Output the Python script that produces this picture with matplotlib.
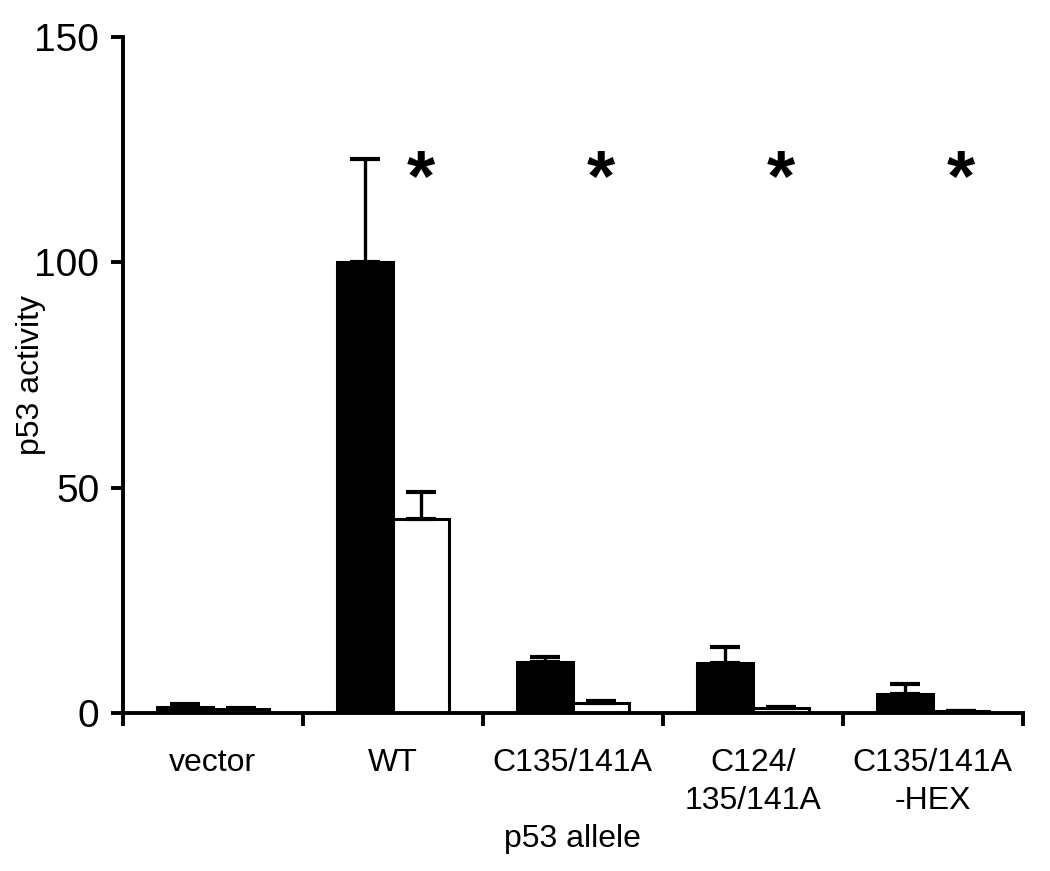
import numpy as np
import matplotlib
matplotlib.use('Agg')
import matplotlib.pyplot as plt

plt.rcParams['font.family'] = ['Liberation Sans', 'DejaVu Sans']

# 数据
alleles = ['vector', 'WT', 'C135/141A', 'C124/\n135/141A', 'C135/141A\n-HEX']
black_vals = [1.4, 100, 11.4, 11.2, 4.4]
black_err = [0.6, 23, 1.0, 3.6, 2.0]
white_vals = [1.0, 43, 2.2, 1.2, 0.5]
white_err = [0.2, 6, 0.6, 0.3, 0.1]
star_groups = [1, 2, 3, 4]

fig = plt.figure(figsize=(10.5, 8.71), dpi=100)
ax = fig.add_axes([0.117, 0.181, 0.857, 0.7765])

x = np.arange(len(alleles)) + 0.5
w = 0.31

ax.bar(x - w / 2, black_vals, w, color='black', edgecolor='black', linewidth=2.2,
       yerr=[np.zeros(5), black_err], capsize=11,
       error_kw=dict(elinewidth=2.4, capthick=3, ecolor='black'))
ax.bar(x + w / 2, white_vals, w, color='white', edgecolor='black', linewidth=2.2,
       yerr=[np.zeros(5), white_err], capsize=11,
       error_kw=dict(elinewidth=2.4, capthick=3, ecolor='black'))

# 星号
for g in star_groups:
    ax.text(x[g] + w / 2, 118, '*', ha='center', va='center', fontsize=52,
            fontweight='bold')

ax.set_xlim(0, 5)
ax.set_ylim(0, 150)
ax.set_yticks([0, 50, 100, 150])
ax.set_xticks(np.arange(6))
ax.set_xticklabels([])
ax.set_xticks(x, minor=True)
ax.set_xticklabels(alleles, minor=True, fontsize=23, linespacing=1.35)
ax.tick_params(axis='x', which='minor', length=0, pad=25)
ax.tick_params(axis='x', which='major', length=9, width=2.8, direction='out')
ax.tick_params(axis='y', length=9, width=2.8, labelsize=28, pad=8)

for s in ['top', 'right']:
    ax.spines[s].set_visible(False)
for s in ['left', 'bottom']:
    ax.spines[s].set_linewidth(2.8)

ax.set_xlabel('p53 allele', fontsize=23, labelpad=6)
ax.set_ylabel('p53 activity', fontsize=23)
ax.yaxis.set_label_coords(-0.085, 0.5)

fig.savefig('out.png', dpi=100)
